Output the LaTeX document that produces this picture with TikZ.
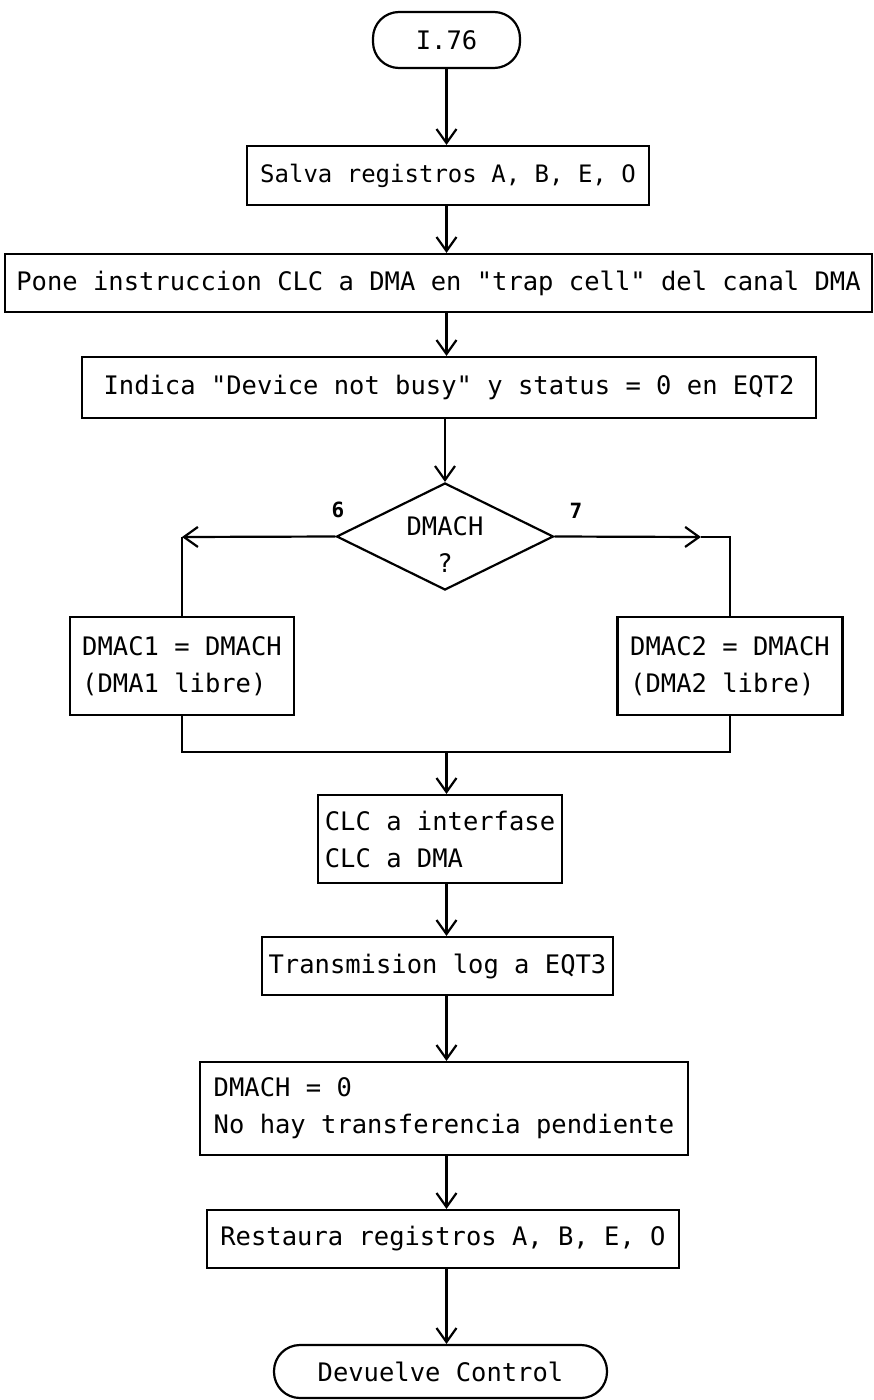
\documentclass[tikz,border=0pt]{standalone}
\usepackage{fontspec}
\setmonofont{DejaVu Sans Mono}
\usetikzlibrary{arrows.meta,shapes.geometric}
\begin{document}
\begin{tikzpicture}[x=1pt,y=-1pt,
  every node/.style={font=\ttfamily\fontsize{25.5}{37}\selectfont},
  proc/.style={draw, line width=2.2pt, inner sep=0pt},
  term/.style={draw, line width=2.2pt, rounded corners=26pt, inner sep=0pt},
  arr/.style={line width=2.2pt, -{Straight Barb[length=14pt,width=20pt]}},
  link/.style={line width=2.2pt},
  lbl/.style={font=\ttfamily\bfseries\fontsize{21}{24}\selectfont}]
\useasboundingbox (0,0) rectangle (874,1400);

% main column
\coordinate (sp) at (446.5,0);
\node[term, minimum width=147pt, minimum height=56pt] (start) at (446.5,40) {I.76};
\node[proc, minimum width=402pt, minimum height=59pt, font=\ttfamily\fontsize{24}{37}\selectfont] (salva) at (448,175.5) {Salva registros A, B, E, O};
\node[proc, minimum width=867pt, minimum height=58pt] (pone) at (438.5,283) {Pone instruccion CLC a DMA en "trap cell" del canal DMA};
\node[proc, minimum width=734pt, minimum height=61pt] (indica) at (449,387.5) {Indica "Device not busy" y status = 0 en EQT2};
\node[diamond, draw, line width=2.2pt, shape aspect=2, minimum width=217pt, minimum height=107pt, inner sep=0pt] (dec) at (445,536.5) {};
\node[align=center, inner sep=0pt] (dectxt) at (445,545) {DMACH\\?};
\node[lbl] (l6) at (338,510) {6};
\node[lbl] (l7) at (576,511) {7};

% branches
\coordinate (cl) at (182,537);
\coordinate (ar) at (701,537);
\coordinate (cr) at (730,537);
\node[proc, minimum width=224pt, minimum height=98pt, align=left] (c1) at (182,666) {DMAC1 = DMACH\\(DMA1 libre)};
\node[proc, minimum width=225pt, minimum height=98pt, align=left] (c2) at (730,666) {DMAC2 = DMACH\\(DMA2 libre)};
\coordinate (jl) at (182,752);
\coordinate (jr) at (730,752);
\coordinate (jm) at (446.5,752);

% lower column
\node[proc, minimum width=244pt, minimum height=88pt, align=left] (clc) at (440,839) {CLC a interfase\\CLC a DMA};
\node[proc, minimum width=351pt, minimum height=58pt] (trans) at (437.5,966) {Transmision log a EQT3};
\node[proc, minimum width=488pt, minimum height=93pt, align=left] (dmach) at (444,1108.5) {DMACH = 0\\No hay transferencia pendiente};
\node[proc, minimum width=472pt, minimum height=58pt] (rest) at (443,1239) {Restaura registros A, B, E, O};
\node[term, minimum width=333pt, minimum height=53pt] (fin) at (440.5,1371.5) {Devuelve Control};

% connectors
\draw[arr] (start.south -| sp) -- (salva.north -| sp);
\draw[arr] (salva.south -| sp) -- (pone.north -| sp);
\draw[arr] (pone.south -| sp) -- (indica.north -| sp);
\draw[arr] (indica.south -| dec.north) -- (dec.north);
\draw[arr] (dec.west) -- (cl);
\draw[link] (cl) -- (c1.north);
\draw[arr] (dec.east) -- (ar);
\draw[link] (ar) -- (cr) -- (c2.north);
\draw[link] (c1.south) -- (jl) -- (jr) -- (c2.south);
\draw[arr] (jm) -- (clc.north -| jm);
\draw[arr] (clc.south -| sp) -- (trans.north -| sp);
\draw[arr] (trans.south -| sp) -- (dmach.north -| sp);
\draw[arr] (dmach.south -| sp) -- (rest.north -| sp);
\draw[arr] (rest.south -| sp) -- (fin.north -| sp);
\end{tikzpicture}
\end{document}
